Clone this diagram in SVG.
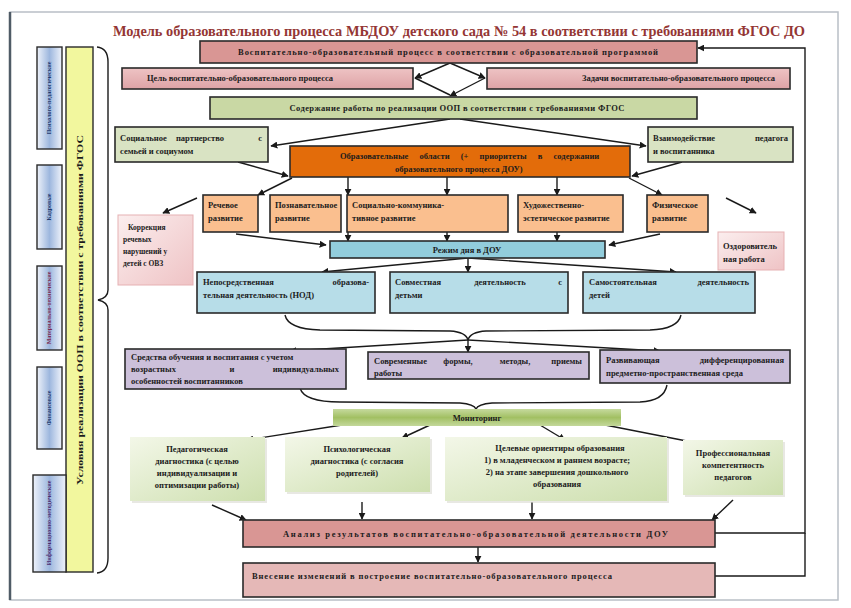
<svg xmlns="http://www.w3.org/2000/svg" width="851" height="608" viewBox="0 0 851 608">
<defs>
<style>
.t{font-family:"Liberation Serif","DejaVu Serif",serif;font-weight:bold;font-size:8.5px;fill:#1c1c1c}
.c{text-anchor:middle}
.e{text-anchor:end}
.bx{stroke:#2a2a2a;stroke-width:1.6}
.ln{stroke:#1a1a1a;stroke-width:1.4;fill:none}
.ar{marker-end:url(#ah)}
.v{font-family:"Liberation Serif","DejaVu Serif",serif;font-weight:bold;font-size:6px;fill:#1f3a6e;text-anchor:middle}
</style>
<marker id="ah" viewBox="0 0 10 10" refX="9" refY="5" markerWidth="7" markerHeight="7" markerUnits="userSpaceOnUse" orient="auto"><path d="M0,0 L10,5 L0,10 z" fill="#1a1a1a"/></marker>
<linearGradient id="gPinkL" x1="0" y1="0" x2="0" y2="1"><stop offset="0" stop-color="#eec3c4"/><stop offset="1" stop-color="#dea3a6"/></linearGradient>
<linearGradient id="gSoftPink" x1="0" y1="0" x2="1" y2="1"><stop offset="0" stop-color="#fbeeee"/><stop offset="1" stop-color="#efc3c5"/></linearGradient>
<linearGradient id="gMon" x1="0" y1="0" x2="0" y2="1"><stop offset="0" stop-color="#c6da9e"/><stop offset="0.5" stop-color="#a2c063"/><stop offset="1" stop-color="#c3d89a"/></linearGradient>
<linearGradient id="gGreenSoft" x1="0" y1="0" x2="1" y2="1"><stop offset="0" stop-color="#f3f7e8"/><stop offset="1" stop-color="#cddfae"/></linearGradient>
<linearGradient id="gSide" x1="0" y1="0" x2="1" y2="0"><stop offset="0" stop-color="#eef2fa"/><stop offset="0.5" stop-color="#9db7de"/><stop offset="1" stop-color="#eef2fa"/></linearGradient>
</defs>
<rect width="851" height="608" fill="#ffffff"/>
<rect x="10" y="12" width="828" height="588" fill="none" stroke="#b9bfc6" stroke-width="1.5"/>
<line x1="10" y1="12" x2="10" y2="600" stroke="#4f5b66" stroke-width="2.5"/>

<text x="113" y="36" textLength="692" lengthAdjust="spacingAndGlyphs" style="font-family:'Liberation Serif',serif;font-size:15px;font-weight:bold;fill:#943634">Модель образовательного процесса МБДОУ детского сада № 54 в соответствии с требованиями ФГОС ДО</text>

<g id="conditions">
<rect x="66" y="47" width="27" height="525" fill="#f2f79e" stroke="#2a2a2a" stroke-width="1.4"/>
<text class="t" transform="translate(83,310) rotate(-90)" text-anchor="middle" style="font-size:8px" textLength="350" lengthAdjust="spacingAndGlyphs">Условия реализации ООП в соответствии с требованиями ФГОС</text>
</g>
<g id="cond-1"><rect x="37" y="47" width="25" height="102" fill="url(#gSide)" stroke="#2a2a2a" stroke-width="1.4"/><text class="v" transform="translate(51,98) rotate(-90)">Психолого-педагогические</text></g>
<g id="cond-2"><rect x="37" y="165" width="25" height="84" fill="url(#gSide)" stroke="#2a2a2a" stroke-width="1.4"/><text class="v" transform="translate(51,207) rotate(-90)">Кадровые</text></g>
<g id="cond-3"><rect x="37" y="266" width="25" height="84" fill="url(#gSide)" stroke="#2a2a2a" stroke-width="1.4"/><text class="v" transform="translate(51,308) rotate(-90)" style="fill:#7a2a50">Материально-технические</text></g>
<g id="cond-4"><rect x="37" y="367" width="25" height="82" fill="url(#gSide)" stroke="#2a2a2a" stroke-width="1.4"/><text class="v" transform="translate(51,408) rotate(-90)">Финансовые</text></g>
<g id="cond-5"><rect x="33" y="475" width="33" height="97" fill="url(#gSide)" stroke="#2a2a2a" stroke-width="1.4"/><text class="v" transform="translate(51,523) rotate(-90)" style="fill:#4a2a6e">Информационно-методические</text></g>

<g id="connectors">
<path class="ln" d="M97,47 Q108,48 108,62 L108,290 Q108,298 98,300 Q108,302 108,310 L108,558 Q108,572 97,573"/>
<path class="ln ar" d="M450,63 L415,78"/>
<path class="ln ar" d="M450,63 L485,78"/>
<path class="ln" d="M415,78 L450,95"/>
<path class="ln ar" d="M485,78 L450,96"/>
<path class="ln ar" d="M450,119 L271,146"/>
<path class="ln ar" d="M460,119 L646,146"/>
<path class="ln ar" d="M238,162 L288,176"/>
<path class="ln ar" d="M682,162 L632,176"/>
<path class="ln ar" d="M292,178 L258,195"/>
<path class="ln ar" d="M348,177 L348,195"/>
<path class="ln ar" d="M447,177 L447,195"/>
<path class="ln ar" d="M557,177 L557,195"/>
<path class="ln ar" d="M629,178 L662,195"/>
<path class="ln ar" d="M197,198 L163,213"/>
<path class="ln ar" d="M726,198 L756,213"/>
<path class="ln ar" d="M236,234 L326,245"/>
<path class="ln ar" d="M348,232 L348,241"/>
<path class="ln ar" d="M447,232 L447,241"/>
<path class="ln ar" d="M557,232 L557,241"/>
<path class="ln ar" d="M660,234 L609,245"/>
<path class="ln ar" d="M468,258 L322,272"/>
<path class="ln ar" d="M468,258 L468,272"/>
<path class="ln ar" d="M468,258 L676,272"/>
<path class="ln" d="M285,315 Q288,329 320,330 L450,331 Q466,332 468,340 Q470,332 486,331 L650,330 Q678,329 681,315"/>
<path class="ln ar" d="M468,340 L290,351"/>
<path class="ln ar" d="M468,340 L468,352"/>
<path class="ln ar" d="M468,340 L660,351"/>
<path class="ln" d="M300,388 Q304,402 340,402 L460,403 Q474,404 476,409 Q478,404 492,403 L640,402 Q664,401 667,385"/>
<path class="ln ar" d="M342,425 L247,440"/>
<path class="ln ar" d="M430,425 L402,438"/>
<path class="ln ar" d="M540,425 L565,440"/>
<path class="ln ar" d="M600,424 L707,445"/>
<path class="ln ar" d="M212,505 L246,520"/>
<path class="ln ar" d="M362,502 L362,519"/>
<path class="ln ar" d="M532,502 L532,519"/>
<path class="ln ar" d="M733,500 L712,520"/>
<path class="ln ar" d="M478,547 L478,562"/>
<path class="ln ar" d="M715,533 L805,533 L805,48 L698,48"/>
<path class="ln" d="M715,576 L805,576 L805,533"/>
</g>

<g id="n-process"><rect class="bx" x="200" y="41" width="497" height="22" fill="#d99694"/><text class="t c" x="448" y="55" textLength="420" lengthAdjust="spacing">Воспитательно-образовательный процесс в соответствии с образовательной программой</text></g>
<g id="n-goal"><rect class="bx" x="122" y="68" width="291" height="21" fill="url(#gPinkL)"/><text class="t" x="147" y="81">Цель воспитательно-образовательного процесса</text></g>
<g id="n-tasks"><rect class="bx" x="487" y="68" width="303" height="21" fill="url(#gPinkL)"/><text class="t" x="582" y="81">Задачи воспитательно-образовательного процесса</text></g>
<g id="n-content"><rect class="bx" x="210" y="97" width="487" height="22" fill="#c9d8a4"/><text class="t c" x="457" y="111" textLength="335" lengthAdjust="spacing">Содержание работы по реализации ООП в соответствии с требованиями ФГОС</text></g>
<g id="n-social"><rect class="bx" x="115" y="127" width="153" height="35" fill="#d9e3c3"/><text class="t" x="120" y="141">Социальное</text><text class="t c" x="200" y="141">партнерство</text><text class="t e" x="262" y="141">с</text><text class="t" x="120" y="154">семьей и социумом</text></g>
<g id="n-interact"><rect class="bx" x="648" y="127" width="145" height="35" fill="#d9e3c3"/><text class="t" x="653" y="141">Взаимодействие</text><text class="t e" x="788" y="141">педагога</text><text class="t" x="653" y="154">и воспитанника</text></g>
<g id="n-areas"><rect class="bx" x="290" y="146" width="340" height="31" fill="#e36c0a"/><text class="t" x="340" y="159" style="word-spacing:9px">Образовательные области (+ приоритеты в содержании</text><text class="t" x="395" y="172">образовательного процесса ДОУ)</text></g>
<g id="n-speech"><rect class="bx" x="203" y="195" width="55" height="37" fill="#fabf8f"/><text class="t" x="208" y="208">Речевое</text><text class="t" x="208" y="221">развитие</text></g>
<g id="n-cognitive"><rect class="bx" x="270" y="195" width="71" height="37" fill="#fabf8f"/><text class="t" x="275" y="208">Познавательное</text><text class="t" x="275" y="221">развитие</text></g>
<g id="n-social-comm"><rect class="bx" x="347" y="195" width="161" height="37" fill="#fabf8f"/><text class="t" x="352" y="208">Социально-коммуника-</text><text class="t" x="352" y="221">тивное развитие</text></g>
<g id="n-art"><rect class="bx" x="518" y="195" width="105" height="37" fill="#fabf8f"/><text class="t" x="523" y="208">Художественно-</text><text class="t" x="523" y="221">эстетическое развитие</text></g>
<g id="n-physical"><rect class="bx" x="647" y="195" width="61" height="37" fill="#fabf8f"/><text class="t" x="652" y="208">Физическое</text><text class="t" x="652" y="221">развитие</text></g>
<g id="n-correction"><rect x="118" y="215" width="75" height="70" fill="url(#gSoftPink)" stroke="#e6b1b3" stroke-width="1"/><text class="t" x="128" y="230" style="font-size:7.5px">Коррекция</text><text class="t" x="123" y="242" style="font-size:7.5px">речевых</text><text class="t" x="123" y="254" style="font-size:7.5px">нарушений у</text><text class="t" x="123" y="266" style="font-size:7.5px">детей с ОВЗ</text></g>
<g id="n-health"><rect x="718" y="232" width="66" height="38" fill="url(#gSoftPink)" stroke="#e6b1b3" stroke-width="1"/><text class="t" x="723" y="249">Оздоровитель</text><text class="t" x="723" y="262">ная работа</text></g>
<g id="n-regime"><rect class="bx" x="330" y="241" width="275" height="17" fill="#92cddc"/><text class="t c" x="467" y="253">Режим дня в ДОУ</text></g>
<g id="n-nod"><rect class="bx" x="197" y="272" width="178" height="41" fill="#b7dde8"/><text class="t" x="203" y="285">Непосредственная</text><text class="t e" x="369" y="285">образова-</text><text class="t" x="203" y="298">тельная деятельность (НОД)</text></g>
<g id="n-joint"><rect class="bx" x="390" y="272" width="178" height="41" fill="#b7dde8"/><text class="t" x="395" y="285">Совместная</text><text class="t c" x="500" y="285">деятельность</text><text class="t e" x="562" y="285">с</text><text class="t" x="395" y="298">детьми</text></g>
<g id="n-indep"><rect class="bx" x="583" y="272" width="172" height="41" fill="#b7dde8"/><text class="t" x="589" y="285">Самостоятельная</text><text class="t e" x="749" y="285">деятельность</text><text class="t" x="589" y="298">детей</text></g>
<g id="n-means"><rect class="bx" x="125" y="349" width="221" height="40" fill="#ccc0da"/><text class="t" x="131" y="360">Средства обучения и воспитания с учетом</text><text class="t" x="131" y="372">возрастных</text><text class="t c" x="232" y="372">и</text><text class="t e" x="339" y="372">индивидуальных</text><text class="t" x="131" y="384">особенностей воспитанников</text></g>
<g id="n-forms"><rect class="bx" x="368" y="352" width="221" height="27" fill="#ccc0da"/><text class="t" x="374" y="364">Современные</text><text class="t c" x="458" y="364">формы,</text><text class="t c" x="515" y="364">методы,</text><text class="t e" x="582" y="364">приемы</text><text class="t" x="374" y="376">работы</text></g>
<g id="n-env"><rect class="bx" x="600" y="350" width="190" height="33" fill="#ccc0da"/><text class="t" x="606" y="363">Развивающая</text><text class="t e" x="784" y="363">дифференцированная</text><text class="t" x="606" y="376">предметно-пространственная среда</text></g>
<g id="n-monitor"><rect x="333" y="409" width="288" height="17" fill="url(#gMon)"/><text class="t c" x="477" y="421">Мониторинг</text></g>
<g id="n-ped"><rect x="132" y="439" width="135" height="64" fill="#d8d8d0" opacity="0.6"/><rect x="130" y="437" width="135" height="64" fill="url(#gGreenSoft)"/><text class="t c" x="197" y="452">Педагогическая</text><text class="t c" x="197" y="464">диагностика (с целью</text><text class="t c" x="197" y="476">индивидуализации и</text><text class="t c" x="197" y="488">оптимизации работы)</text></g>
<g id="n-psy"><rect x="287" y="439" width="145" height="55" fill="#d8d8d0" opacity="0.6"/><rect x="285" y="437" width="145" height="55" fill="url(#gGreenSoft)"/><text class="t c" x="357" y="452">Психологическая</text><text class="t c" x="357" y="464">диагностика (с согласия</text><text class="t c" x="357" y="476">родителей)</text></g>
<g id="n-targets"><rect x="447" y="439" width="222" height="64" fill="#d8d8d0" opacity="0.6"/><rect x="445" y="437" width="222" height="64" fill="url(#gGreenSoft)"/><text class="t c" x="560" y="451">Целевые ориентиры образования</text><text class="t c" x="557" y="463">1) в младенческом и раннем возрасте;</text><text class="t c" x="557" y="475">2) на этапе завершения дошкольного</text><text class="t c" x="557" y="487">образования</text></g>
<g id="n-prof"><rect x="685" y="442" width="100" height="55" fill="#d8d8d0" opacity="0.6"/><rect x="683" y="440" width="100" height="55" fill="url(#gGreenSoft)"/><text class="t c" x="733" y="456">Профессиональная</text><text class="t c" x="733" y="468">компетентность</text><text class="t c" x="733" y="480">педагогов</text></g>
<g id="n-analysis"><rect class="bx" x="243" y="520" width="472" height="27" fill="#d99694"/><text class="t" x="283" y="537" textLength="385" lengthAdjust="spacing">Анализ результатов воспитательно-образовательной деятельности  ДОУ</text></g>
<g id="n-changes"><rect class="bx" x="243" y="563" width="472" height="34" fill="#e5b8b7"/><text class="t" x="252" y="579" textLength="360" lengthAdjust="spacing">Внесение изменений  в построение воспитательно-образовательного процесса</text></g>
</svg>
